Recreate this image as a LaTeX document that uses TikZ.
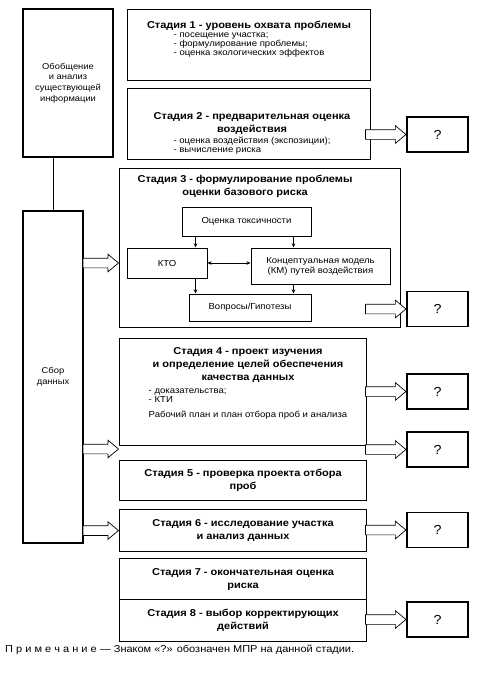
\documentclass[tikz,border=0pt]{standalone}
\usepackage{fontspec}
\setmainfont{Liberation Sans}[FakeStretch=1.1]
\usetikzlibrary{positioning,calc,shapes.arrows,arrows.meta}
\newcommand\titlefont{\fontsize{10}{13}\selectfont\bfseries}
\newcommand\listfont{\fontsize{8.7}{9}\selectfont}
\newcommand\sidefont{\fontsize{8.5}{10.7}\selectfont}
\newcommand\fatarrow[3]{%
  \path let \p1=(#1), \p2=(#2), \n1={veclen(\x2-\x1,\y2-\y1)} in
    node[fat,minimum height=\n1,anchor=tip] (#3) at (#2) {};}

\begin{document}
\begin{tikzpicture}[x=1pt,y=-1pt,
  stagebox/.style={draw,line width=1.1pt,inner sep=0pt,anchor=north west},
  sidebox/.style={draw,line width=1.1pt,inner sep=0pt,align=center,font=\sidefont},
  inbox/.style={draw,line width=1pt,inner sep=0pt,align=center,font=\fontsize{8.7}{10}\selectfont},
  qbox/.style={draw,line width=1.1pt,minimum width=61pt,minimum height=35pt,font=\fontsize{13}{13}\selectfont},
  title/.style={font=\titlefont,align=center,inner sep=0pt},
  list/.style={font=\listfont,align=left,inner sep=0pt},
  fat/.style={single arrow,draw,fill=white,line width=0.7pt,inner xsep=0pt,inner ysep=4.5pt,
    single arrow head extend=4pt,single arrow tip angle=80},
  thinarr/.style={line width=0.6pt,-{Stealth[length=4pt,width=3.5pt]}},
  ]
  \useasboundingbox (0,0) rectangle (483,673);

  % left column
  \node[sidebox,minimum width=90pt,minimum height=148pt] (obob) at (68,83)
    {Обобщение\\и анализ\\существующей\\информации};
  \node[sidebox,minimum width=60pt,minimum height=332pt] (sbor) at (53,377)
    {Сбор\\данных};
  \draw[line width=0.8pt] (obob.south -| sbor.north) -- (sbor.north);

  % stage 1
  \node[stagebox,minimum width=243pt,minimum height=71pt] (s1) at (127,9) {};
  \node[title] (s1t) at (249,26) {Стадия 1 - уровень охвата проблемы};
  \node[list,below=2pt of s1t] (s1l)
    {- посещение участка;\\- формулирование проблемы;\\- оценка экологических эффектов};

  % stage 2
  \node[stagebox,minimum width=243pt,minimum height=71pt] (s2) at (127,88) {};
  \node[title] (s2t) at (252,123) {Стадия 2 - предварительная оценка\\воздействия};
  \node[list,below=3pt of s2t] (s2l)
    {- оценка воздействия (экспозиции);\\- вычисление риска};

  % stage 3
  \node[stagebox,minimum width=281pt,minimum height=159pt] (s3) at (119,168) {};
  \node[title] (s3t) at (245,186) {Стадия 3 - формулирование проблемы\\оценки базового риска};
  \node[inbox,minimum width=129pt,minimum height=29pt] (tox) at (246.5,221.5) {Оценка токсичности};
  \node[inbox,minimum width=80pt,minimum height=30pt] (kto) at (167,263) {КТО};
  \node[inbox,minimum width=139pt,minimum height=36pt] (km) at (320.5,266)
    {Концептуальная модель\\(КМ) путей воздействия};
  \node[inbox,minimum width=122pt,minimum height=27pt] (vop) at (250,307.5) {Вопросы/Гипотезы};
  \draw[thinarr] ([xshift=14pt]tox.south west) -- ([xshift=14pt]tox.south west |- kto.north);
  \draw[thinarr] ([xshift=-18pt]tox.south east) -- ([xshift=-18pt]tox.south east |- km.north);
  \draw[thinarr,{Stealth[length=4pt,width=3.5pt]}-{Stealth[length=4pt,width=3.5pt]}]
    (kto.east) -- (km.west |- kto.east);
  \draw[thinarr] ([xshift=14pt]tox.south west |- kto.south) -- ([xshift=14pt]tox.south west |- vop.north);
  \draw[thinarr] ([xshift=-18pt]tox.south east |- km.south) -- ([xshift=-18pt]tox.south east |- vop.north);

  % stage 4
  \node[stagebox,minimum width=247pt,minimum height=107pt] (s4) at (119,338) {};
  \node[title] (s4t) at (248,365)
    {Стадия 4 - проект изучения\\и определение целей обеспечения\\качества данных};
  \node[list,below=6pt of s4t] (s4l)
    {- доказательства;\\- КТИ\\[6pt]Рабочий план и план отбора проб и анализа};

  % stages 5 - 8
  \node[stagebox,minimum width=247pt,minimum height=40pt,title] (s5) at (119,460)
    {Стадия 5 - проверка проекта отбора\\проб};
  \node[stagebox,minimum width=247pt,minimum height=42pt,title] (s6) at (119,509)
    {Стадия 6 - исследование участка\\и анализ данных};
  \node[stagebox,minimum width=247pt,minimum height=41pt,title] (s7) at (119,558)
    {Стадия 7 - окончательная оценка\\риска};
  \node[stagebox,minimum width=247pt,minimum height=42pt,title] (s8) at (119,599)
    {Стадия 8 - выбор корректирующих\\действий};

  % decision points
  \foreach \nm/\yy in {q2/134.5,q3/309,q4a/391.5,q4b/449.5,q6/530,q8/619.5}
    \node[qbox] (\nm) at (437.5,\yy) {?};
  \coordinate (rcol) at (366,0);
  \foreach \nm in {q2,q3,q4a,q4b,q6,q8}
    \fatarrow{rcol |- \nm}{\nm.west}{a\nm};

  % data collection arrows
  \coordinate (gap4) at (119,449);
  \fatarrow{sbor.east |- kto}{s3.west |- kto}{ls3}
  \fatarrow{sbor.east |- gap4}{gap4}{ls4}
  \fatarrow{sbor.east |- s6.west}{s6.west}{ls6}

  \node[anchor=west,inner sep=0pt,font=\fontsize{10}{11}\selectfont] (note) at (5,650)
    {П р и м е ч а н и е — Знаком «?» обозначен МПР на данной стадии.};
\end{tikzpicture}
\end{document}
